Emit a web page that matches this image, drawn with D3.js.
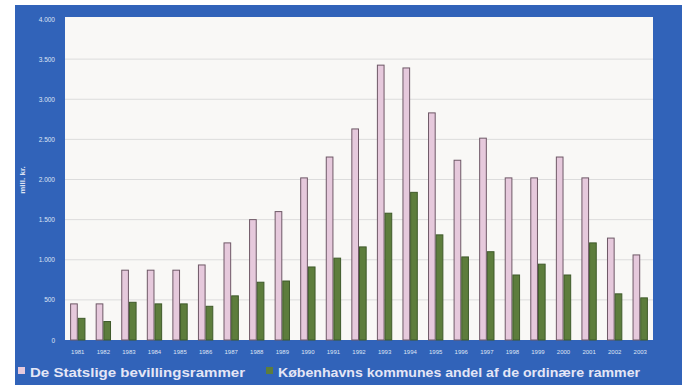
<!DOCTYPE html>
<html><head><meta charset="utf-8">
<script src="https://cdn.jsdelivr.net/npm/d3@7"></script>
<style>body{margin:0;background:#fff;}svg{display:block;font-family:"Liberation Sans",Arial,sans-serif;}</style>
</head><body>
<svg id="c" width="688" height="385"></svg>
<script>
const years = ["1981","1982","1983","1984","1985","1986","1987","1988","1989","1990","1991","1992","1993","1994","1995","1996","1997","1998","1999","2000","2001","2002","2003"];
const statslige = [450,450,870,870,870,935,1210,1500,1600,2020,2280,2630,3425,3390,2830,2240,2515,2020,2020,2280,2020,1270,1060];
const kobenhavn = [270,230,470,450,450,420,550,720,735,910,1020,1160,1580,1840,1310,1035,1100,810,945,810,1210,575,525];
const yTicks = [0,500,1000,1500,2000,2500,3000,3500,4000];
const yTickLabels = ["0","500","1.000","1.500","2.000","2.500","3.000","3.500","4.000"];
const seriesNames = ["De Statslige bevillingsrammer","Københavns kommunes andel af de ordinære rammer"];
const colors = ["#e6c9dc","#5d7d3c"];

const svg = d3.select("#c");
const blue = "#3163b9";
// frame
svg.append("rect").attr("x",15).attr("y",5).attr("width",667).attr("height",380).attr("fill",blue);
const L=65,R=653,T=17,B=340;
svg.append("rect").attr("x",L).attr("y",T).attr("width",R-L).attr("height",B-T).attr("fill","#f9f8f6");

const x = d3.scaleBand().domain(years).range([L,R]).paddingInner(0.4).paddingOuter(0.2);
const xs = d3.scaleBand().domain([0,1]).range([0,x.bandwidth()]).padding(0);
const y = d3.scaleLinear().domain([0,4000]).range([B,19]);

// grid
svg.append("g").selectAll("line").data(yTicks.filter(v=>v>0&&v<4000)).join("line")
  .attr("x1",L).attr("x2",R).attr("y1",d=>y(d)).attr("y2",d=>y(d))
  .attr("stroke","#dcdcdc").attr("stroke-width",1);

// y axis labels
const yAxis = d3.axisLeft(y).tickValues(yTicks).tickFormat((d,i)=>yTickLabels[i]).tickSize(0).tickPadding(0);
const ga = svg.append("g").attr("transform",`translate(${L-10},0)`).call(yAxis);
ga.select(".domain").remove();
ga.selectAll("text").attr("fill","#dfe4f4").attr("font-size",6.5).attr("dy","0.32em");

// x axis labels
const xAxis = d3.axisBottom(x).tickSize(0).tickPadding(0);
const gx = svg.append("g").attr("transform",`translate(0,${B+10})`).call(xAxis);
gx.select(".domain").remove();
gx.selectAll("text").attr("fill","#dfe4f4").attr("font-size",6).attr("dy","0.6em");

// bars
const data = years.map((yr,i)=>({yr, v:[statslige[i],kobenhavn[i]]}));
const g = svg.append("g");
data.forEach(d=>{
  d.v.forEach((v,k)=>{
    g.append("rect")
      .attr("x",x(d.yr)+xs(k)+0.5).attr("y",y(v))
      .attr("width",xs.bandwidth()-1).attr("height",B-y(v))
      .attr("fill",colors[k]).attr("stroke",k===0?"#6e5866":"#3f5a2a").attr("stroke-width",1);
  });
});

// y title
svg.append("text").attr("transform","translate(25,180) rotate(-90)")
  .attr("text-anchor","middle").attr("fill","#dfe4f4").attr("font-size",8).attr("font-weight","bold").text("mill. kr.");

// legend
const leg = [{x:18,tx:30,len:215},{x:266,tx:278,len:362}];
leg.forEach((l,i)=>{
  svg.append("rect").attr("x",l.x).attr("y",367).attr("width",7).attr("height",7).attr("fill",colors[i]);
  svg.append("text").attr("x",l.tx).attr("y",377).attr("fill","#e4e6f6").attr("font-size",13.5)
    .attr("font-weight","bold").attr("textLength",l.len).attr("lengthAdjust","spacingAndGlyphs").text(seriesNames[i]);
});
</script>
</body></html>
